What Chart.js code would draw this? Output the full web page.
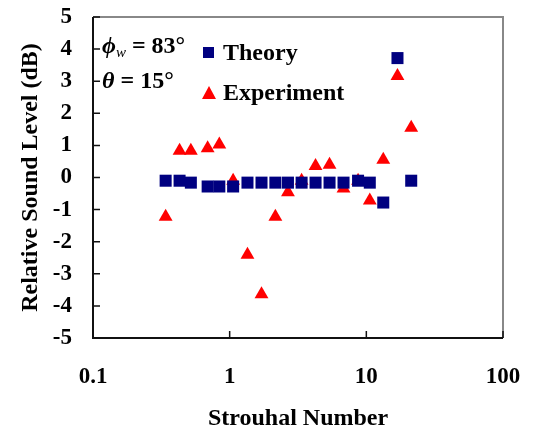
<!DOCTYPE html>
<html>
<head>
<meta charset="utf-8">
<script src="https://cdn.jsdelivr.net/npm/chart.js@4.4.1/dist/chart.umd.min.js"></script>
<style>
  body { margin: 0; background: #fff; }
  #wrap { width: 533px; height: 433px; }
</style>
</head>
<body>
<div id="wrap"><canvas id="chSound"></canvas></div>
<script>
// data
var strouhal = [0.34, 0.43, 0.52, 0.69, 0.84, 1.06, 1.35, 1.71, 2.16, 2.67, 3.36, 4.25, 5.38, 6.81, 8.7, 10.6, 13.3, 16.9, 21.3];
var theory = [-0.1, -0.1, -0.16, -0.28, -0.28, -0.28, -0.16, -0.16, -0.16, -0.16, -0.16, -0.16, -0.16, -0.16, -0.1, -0.16, -0.78, 3.72, -0.1];
var experiment = [-1.22, 0.83, 0.83, 0.91, 1.03, -0.1, -2.41, -3.64, -1.22, -0.46, -0.1, 0.36, 0.4, -0.34, -0.1, -0.72, 0.55, 3.16, 1.55];
var xTicks = [0.1, 1, 10, 100];
var yRange = [-5, 5];

var serif = '"Liberation Serif", "Times New Roman", serif';
var navy = '#000080';
var red = '#ff0000';

function pts(ys) {
  return strouhal.map(function (x, i) { return {x: x, y: ys[i]}; });
}

// keep the plot box where the original has it
function noPad(s) {
  s.paddingTop = 0; s.paddingBottom = 0; s.paddingLeft = 0; s.paddingRight = 0;
}

// frame, inward ticks, legend and the angle notes
var decor = {
  id: 'decor',
  beforeDatasetsDraw: function (chart) {
    var ctx = chart.ctx, a = chart.chartArea;
    var xs = chart.scales.x, ys = chart.scales.y;
    ctx.save();
    ctx.lineWidth = 2;
    ctx.strokeStyle = '#888';
    ctx.beginPath();
    ctx.moveTo(a.left, a.top); ctx.lineTo(a.right, a.top); ctx.lineTo(a.right, a.bottom);
    ctx.stroke();
    ctx.strokeStyle = '#111';
    ctx.beginPath();
    ctx.moveTo(a.left, a.top); ctx.lineTo(a.left, a.bottom); ctx.lineTo(a.right, a.bottom);
    ctx.stroke();
    ctx.lineWidth = 1.5;
    ctx.beginPath();
    for (var v = yRange[0]; v <= yRange[1]; v++) {
      var py = ys.getPixelForValue(v);
      ctx.moveTo(a.left, py); ctx.lineTo(a.left + 7, py);
    }
    xTicks.forEach(function (t) {
      var px = xs.getPixelForValue(t);
      ctx.moveTo(px, a.bottom); ctx.lineTo(px, a.bottom - 7);
    });
    ctx.stroke();
    ctx.restore();
  },
  afterDraw: function (chart) {
    var ctx = chart.ctx;
    ctx.save();
    ctx.fillStyle = '#000';
    ctx.textBaseline = 'alphabetic';
    // phi_w = 83
    var x = 102;
    ctx.font = 'italic bold 24px ' + serif;
    ctx.fillText('\u03d5', x, 53);
    x += ctx.measureText('\u03d5').width;
    ctx.font = 'italic 15px ' + serif;
    ctx.fillText('w', x, 57);
    x += ctx.measureText('w').width;
    ctx.font = 'bold 24px ' + serif;
    ctx.fillText(' = 83\u00b0', x, 53);
    // theta = 15
    x = 102;
    ctx.font = 'italic bold 24px ' + serif;
    ctx.fillText('\u03b8', x, 88);
    x += ctx.measureText('\u03b8').width;
    ctx.font = 'bold 24px ' + serif;
    ctx.fillText(' = 15\u00b0', x, 88);
    // legend
    ctx.fillStyle = navy;
    ctx.fillRect(203, 47, 11, 11);
    ctx.fillStyle = red;
    ctx.beginPath();
    ctx.moveTo(209, 86); ctx.lineTo(216, 99); ctx.lineTo(202, 99);
    ctx.closePath(); ctx.fill();
    ctx.fillStyle = '#000';
    ctx.font = 'bold 24px ' + serif;
    ctx.fillText('Theory', 223, 60);
    ctx.fillText('Experiment', 223, 100);
    ctx.restore();
  }
};

var chSound = document.getElementById('chSound');
if (chSound) {
  new Chart(chSound, {
    type: 'scatter',
    data: {
      datasets: [
        {
          label: 'Theory',
          data: pts(theory),
          pointStyle: 'rect',
          pointRadius: 8.5,
          backgroundColor: navy,
          borderColor: navy,
          borderWidth: 0
        },
        {
          label: 'Experiment',
          data: pts(experiment),
          pointStyle: 'triangle',
          pointRadius: 8,
          backgroundColor: red,
          borderColor: red,
          borderWidth: 0
        }
      ]
    },
    options: {
      responsive: true,
      maintainAspectRatio: false,
      animation: false,
      layout: {padding: {top: 17, right: 30, left: 0, bottom: 0}},
      plugins: {legend: {display: false}, tooltip: {enabled: false}},
      scales: {
        x: {
          type: 'logarithmic',
          min: 0.1,
          max: 100,
          afterFit: function (s) { s.height = 95; noPad(s); },
          afterBuildTicks: function (s) { s.ticks = xTicks.map(function (v) { return {value: v}; }); },
          grid: {display: false, drawTicks: false},
          border: {display: false},
          ticks: {
            autoSkip: false, maxRotation: 0, padding: 25, color: '#000',
            font: {family: serif, size: 23, weight: 'bold'},
            callback: function (v) { return String(v); }
          },
          title: {
            display: true, text: 'Strouhal Number', color: '#000',
            font: {family: serif, size: 24, weight: 'bold'},
            padding: {top: 0, bottom: 0}
          }
        },
        y: {
          min: yRange[0],
          max: yRange[1],
          afterFit: function (s) { s.width = 93; noPad(s); },
          grid: {display: false, drawTicks: false},
          border: {display: false},
          ticks: {
            stepSize: 1, autoSkip: false, padding: 21, color: '#000',
            font: {family: serif, size: 23, weight: 'bold'}
          },
          title: {
            display: true, text: 'Relative Sound Level (dB)', color: '#000',
            font: {family: serif, size: 24, weight: 'bold'},
            padding: {top: 16, bottom: 0}
          }
        }
      }
    },
    plugins: [decor]
  });
}
</script>
</body>
</html>
